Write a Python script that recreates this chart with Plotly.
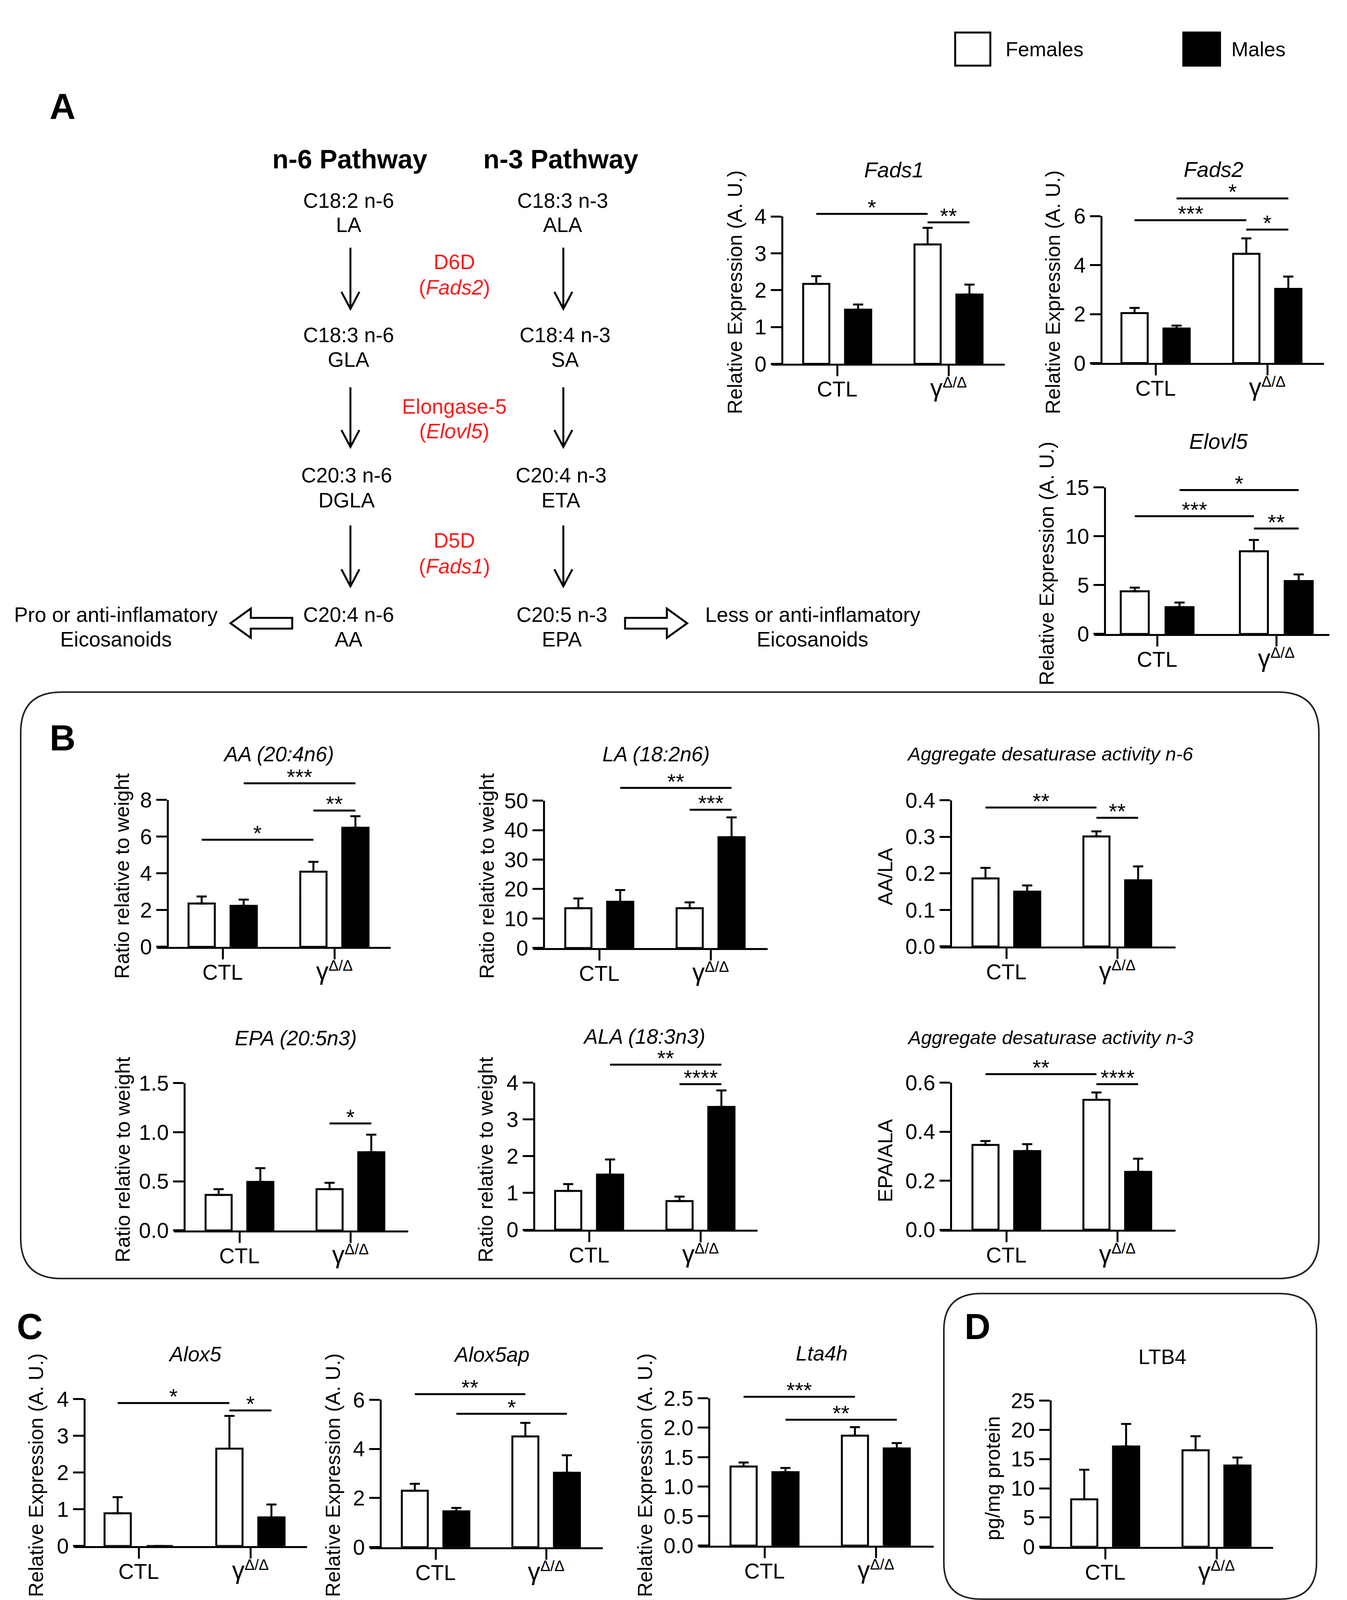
import plotly.graph_objects as go

W, H = 3448, 4175
FONT = "Liberation Sans, Arial, Helvetica, sans-serif"

# ---------------- data ----------------
groups = ["CTL", "<span style=\"font-size:64px\">γ</span><sup>Δ/Δ</sup>"]
legend_labels = ["Females", "Males"]

fads1_female = [2.17, 3.24]
fads1_female_sem = [0.21, 0.45]
fads1_male = [1.47, 1.88]
fads1_male_sem = [0.14, 0.27]
fads1_sig = [(0, 2, 4.07, "*"), (2, 3, 3.84, "**")]

fads2_female = [2.04, 4.46]
fads2_female_sem = [0.21, 0.63]
fads2_male = [1.41, 3.03]
fads2_male_sem = [0.12, 0.50]
fads2_sig = [(0, 2, 5.83, "***"), (2, 3, 5.45, "*"), (1, 3, 6.72, "*")]

elovl5_female = [4.37, 8.46]
elovl5_female_sem = [0.38, 1.16]
elovl5_male = [2.75, 5.42]
elovl5_male_sem = [0.47, 0.67]
elovl5_sig = [(0, 2, 12.05, "***"), (2, 3, 10.79, "**"), (1, 3, 14.73, "*")]

aa_female = [2.36, 4.09]
aa_female_sem = [0.38, 0.54]
aa_male = [2.23, 6.48]
aa_male_sem = [0.34, 0.63]
aa_sig = [(0, 2, 5.83, "*"), (2, 3, 7.42, "**"), (1, 3, 8.90, "***")]

la_female = [13.5, 13.5]
la_female_sem = [3.3, 2.0]
la_male = [15.7, 37.6]
la_male_sem = [3.95, 6.7]
la_sig = [(1, 3, 54.3, "**"), (2, 3, 46.9, "***")]

n6_female = [0.186, 0.301]
n6_female_sem = [0.029, 0.014]
n6_male = [0.150, 0.181]
n6_male_sem = [0.017, 0.038]
n6_sig = [(0, 2, 0.380, "**"), (2, 3, 0.352, "**")]

epa_female = [0.362, 0.42]
epa_female_sem = [0.058, 0.065]
epa_male = [0.494, 0.796]
epa_male_sem = [0.14, 0.179]
epa_sig = [(2, 3, 1.089, "*")]

ala_female = [1.054, 0.78]
ala_female_sem = [0.186, 0.12]
ala_male = [1.50, 3.34]
ala_male_sem = [0.41, 0.45]
ala_sig = [(1, 3, 4.49, "**"), (2, 3, 3.96, "****")]

n3_female = [0.346, 0.530]
n3_female_sem = [0.016, 0.030]
n3_male = [0.321, 0.236]
n3_male_sem = [0.028, 0.054]
n3_sig = [(0, 2, 0.635, "**"), (2, 3, 0.594, "****")]

alox5_female = [0.89, 2.65]
alox5_female_sem = [0.44, 0.89]
alox5_male = [0.0, 0.78]
alox5_male_sem = [0.0, 0.35]
alox5_sig = [(0, 2, 3.89, "*"), (2, 3, 3.69, "*")]

alox5ap_female = [2.30, 4.51]
alox5ap_female_sem = [0.28, 0.55]
alox5ap_male = [1.46, 3.03]
alox5ap_male_sem = [0.14, 0.71]
alox5ap_sig = [(0, 2, 6.23, "**"), (1, 3, 5.43, "*")]

lta4h_female = [1.343, 1.866]
lta4h_female_sem = [0.067, 0.144]
lta4h_male = [1.246, 1.648]
lta4h_male_sem = [0.072, 0.092]
lta4h_sig = [(0, 2, 2.525, "***"), (1, 3, 2.135, "**")]

ltb4_female = [8.12, 16.5]
ltb4_female_sem = [5.05, 2.4]
ltb4_male = [17.14, 13.9]
ltb4_male_sem = [3.86, 1.36]
ltb4_sig = []

# ---------------- panel layout (pixel geometry) ----------------
REL = "Relative Expression (A. U.)"
RAT = "Ratio relative to weight"
panels = [
    dict(title="<i>Fads1</i>", f=fads1_female, fe=fads1_female_sem, m=fads1_male, me=fads1_male_sem, sig=fads1_sig,
         ymax=4, dtick=1, fmt="d", ylab=REL, ax=2002, xr=2572, ctl=2143, gam=2428, y0=914, ytop=531,
         tx=2288, ty=410, lx=1881, ly=728, tfs=55),
    dict(title="<i>Fads2</i>", f=fads2_female, fe=fads2_female_sem, m=fads2_male, me=fads2_male_sem, sig=fads2_sig,
         ymax=6, dtick=2, fmt="d", ylab=REL, ax=2819, xr=3389, ctl=2958, gam=3244, y0=912, ytop=530,
         tx=3106, ty=409, lx=2695, ly=728, tfs=55),
    dict(title="<i>Elovl5</i>", f=elovl5_female, fe=elovl5_female_sem, m=elovl5_male, me=elovl5_male_sem, sig=elovl5_sig,
         ymax=15, dtick=5, fmt="d", ylab=REL, ax=2828, xr=3403, ctl=2962, gam=3267, y0=1616, ytop=1235,
         tx=3119, ty=1116, lx=2679, ly=1433, tfs=55),
    dict(title="<i>AA (20:4n6)</i>", f=aa_female, fe=aa_female_sem, m=aa_male, me=aa_male_sem, sig=aa_sig,
         ymax=8, dtick=2, fmt="d", ylab=RAT, ax=429, xr=1000, ctl=570, gam=856, y0=2429, ytop=2047,
         tx=713, ty=1928, lx=312, ly=2245, tfs=53),
    dict(title="<i>LA (18:2n6)</i>", f=la_female, fe=la_female_sem, m=la_male, me=la_male_sem, sig=la_sig,
         ymax=50, dtick=10, fmt="d", ylab=RAT, ax=1392, xr=1965, ctl=1534, gam=1819, y0=2432, ytop=2049,
         tx=1679, ty=1928, lx=1246, ly=2245, tfs=53),
    dict(title="<i>Aggregate desaturase activity n-6</i>", f=n6_female, fe=n6_female_sem, m=n6_male, me=n6_male_sem, sig=n6_sig,
         ymax=0.4, dtick=0.1, fmt=".1f", ylab="AA/LA", ax=2434, xr=3009, ctl=2576, gam=2860, y0=2428, ytop=2048,
         tx=2688, ty=1928, lx=2266, ly=2246, tfs=49),
    dict(title="<i>EPA (20:5n3)</i>", f=epa_female, fe=epa_female_sem, m=epa_male, me=epa_male_sem, sig=epa_sig,
         ymax=1.5, dtick=0.5, fmt=".1f", ylab=RAT, ax=472, xr=1045, ctl=613, gam=897, y0=3166, ytop=2783,
         tx=757, ty=2666, lx=314, ly=2982, tfs=53),
    dict(title="<i>ALA (18:3n3)</i>", f=ala_female, fe=ala_female_sem, m=ala_male, me=ala_male_sem, sig=ala_sig,
         ymax=4, dtick=1, fmt="d", ylab=RAT, ax=1367, xr=1939, ctl=1508, gam=1793, y0=3164, ytop=2782,
         tx=1648, ty=2662, lx=1243, ly=2982, tfs=53),
    dict(title="<i>Aggregate desaturase activity n-3</i>", f=n3_female, fe=n3_female_sem, m=n3_male, me=n3_male_sem, sig=n3_sig,
         ymax=0.6, dtick=0.2, fmt=".1f", ylab="EPA/ALA", ax=2434, xr=3009, ctl=2576, gam=2860, y0=3164, ytop=2782,
         tx=2688, ty=2665, lx=2266, ly=2985, tfs=49),
    dict(title="<i>Alox5</i>", f=alox5_female, fe=alox5_female_sem, m=alox5_male, me=alox5_male_sem, sig=alox5_sig,
         ymax=4, dtick=1, fmt="d", ylab=REL, ax=216, xr=786, ctl=355, gam=641, y0=3986, ytop=3604,
         tx=499, ty=3487, lx=92, ly=3802, tfs=53),
    dict(title="<i>Alox5ap</i>", f=alox5ap_female, fe=alox5ap_female_sem, m=alox5ap_male, me=alox5ap_male_sem, sig=alox5ap_sig,
         ymax=6, dtick=2, fmt="d", ylab=REL, ax=974, xr=1543, ctl=1115, gam=1398, y0=3989, ytop=3606,
         tx=1258, ty=3488, lx=852, ly=3802, tfs=53),
    dict(title="<i>Lta4h</i>", f=lta4h_female, fe=lta4h_female_sem, m=lta4h_male, me=lta4h_male_sem, sig=lta4h_sig,
         ymax=2.5, dtick=0.5, fmt=".1f", ylab=REL, ax=1815, xr=2390, ctl=1957, gam=2242, y0=3985, ytop=3602,
         tx=2103, ty=3485, lx=1651, ly=3802, tfs=53),
    dict(title="LTB4", f=ltb4_female, fe=ltb4_female_sem, m=ltb4_male, me=ltb4_male_sem, sig=ltb4_sig,
         ymax=25, dtick=5, fmt="d", ylab="pg/mg protein", ax=2689, xr=3259, ctl=2829, gam=3114, y0=3988, ytop=3608,
         tx=2975, ty=3494, lx=2541, ly=3810, tfs=53),
]

TICKLEN = 27
LW = 5
BAR_OFF = 0.188
BAR_W = 0.235
TICK_FS = 55
CAT_FS = 55
LAB_FS = 52
STAR_FS = 56


def px(x):
    return x / W


def py(y):
    return 1 - y / H


def ref(k, letter):
    return letter if k == 1 else f"{letter}{k}"


def key(k, letter):
    return f"{letter}axis" if k == 1 else f"{letter}axis{k}"


fig = go.Figure()
layout_axes = {}
annotations = []
shapes = []


def text(xp, yp, t, size=52, color="black", angle=0, xanchor="center", yanchor="middle"):
    annotations.append(dict(x=px(xp), y=py(yp), xref="paper", yref="paper", text=t, showarrow=False,
                            textangle=angle, xanchor=xanchor, yanchor=yanchor,
                            font=dict(family=FONT, size=size, color=color)))


for i, p in enumerate(panels):
    kv = 2 * i + 1
    ko = 2 * i + 2
    sp = p["gam"] - p["ctl"]
    xl = p["ax"] - TICKLEN
    xrange_ = [(xl - p["ctl"]) / sp, (p["xr"] - p["ctl"]) / sp]
    xdom = [px(xl), px(p["xr"])]
    ydom = [py(p["y0"]), py(p["ytop"])]
    ppu = (p["y0"] - p["ytop"]) / p["ymax"]
    ext = p["ytop"] - 260
    ydom_o = [py(p["y0"]), py(ext)]
    yrange_o = [0, (p["y0"] - ext) / ppu]

    layout_axes[key(kv, "x")] = dict(domain=xdom, range=xrange_, anchor=ref(kv, "y"), showline=True,
                                     linecolor="black", linewidth=LW, ticks="outside", ticklen=TICKLEN,
                                     tickwidth=LW, tickcolor="black", tickmode="array", tickvals=[0, 1],
                                     ticktext=groups, showgrid=False, zeroline=False, fixedrange=True,
                                     ticklabelstandoff=-14,
                                     tickfont=dict(family=FONT, size=CAT_FS, color="black"))
    layout_axes[key(kv, "y")] = dict(domain=ydom, range=[0, p["ymax"]], anchor="free", position=px(p["ax"]),
                                     side="left", showline=True, linecolor="black", linewidth=LW,
                                     ticks="outside", ticklen=TICKLEN, tickwidth=LW, tickcolor="black",
                                     tickmode="linear", tick0=0, dtick=p["dtick"], tickformat=p["fmt"],
                                     showgrid=False, zeroline=False, fixedrange=True,
                                     tickfont=dict(family=FONT, size=TICK_FS, color="black"))
    layout_axes[key(ko, "x")] = dict(domain=xdom, range=xrange_, anchor=ref(ko, "y"), visible=False,
                                     fixedrange=True)
    layout_axes[key(ko, "y")] = dict(domain=ydom_o, range=yrange_o, anchor=ref(ko, "x"), visible=False,
                                     fixedrange=True)

    centers = [0 - BAR_OFF, 0 + BAR_OFF, 1 - BAR_OFF, 1 + BAR_OFF]
    fig.add_trace(go.Bar(x=[centers[0], centers[2]], y=p["f"], width=BAR_W, name=legend_labels[0],
                         marker=dict(color="white", line=dict(color="black", width=LW)),
                         error_y=dict(type="data", symmetric=False, array=p["fe"], arrayminus=[0, 0],
                                      color="black", thickness=LW, width=13),
                         xaxis=ref(kv, "x"), yaxis=ref(kv, "y"), showlegend=False))
    fig.add_trace(go.Bar(x=[centers[1], centers[3]], y=p["m"], width=BAR_W, name=legend_labels[1],
                         marker=dict(color="black", line=dict(color="black", width=LW)),
                         error_y=dict(type="data", symmetric=False, array=p["me"], arrayminus=[0, 0],
                                      color="black", thickness=LW, width=13),
                         xaxis=ref(kv, "x"), yaxis=ref(kv, "y"), showlegend=False))

    xs, ys = [], []
    for (a, b, v, lab) in p["sig"]:
        xs += [centers[a], centers[b], None]
        ys += [v, v, None]
        annotations.append(dict(x=(centers[a] + centers[b]) / 2, y=v, xref=ref(ko, "x"), yref=ref(ko, "y"),
                                text=lab, showarrow=False, yanchor="middle", xanchor="center", yshift=17,
                                font=dict(family=FONT, size=STAR_FS, color="black")))
    if xs:
        fig.add_trace(go.Scatter(x=xs, y=ys, mode="lines", line=dict(color="black", width=LW),
                                 xaxis=ref(ko, "x"), yaxis=ref(ko, "y"), showlegend=False, hoverinfo="skip"))

    text(p["tx"], p["ty"], p["title"], size=p["tfs"])
    text(p["lx"], p["ly"], p["ylab"], size=LAB_FS, angle=-90)

# ---------------- legend ----------------
shapes.append(dict(type="rect", xref="paper", yref="paper", x0=px(2445), x1=px(2535), y0=py(139), y1=py(53),
                   line=dict(color="black", width=LW), fillcolor="white"))
shapes.append(dict(type="rect", xref="paper", yref="paper", x0=px(3029), x1=px(3123), y0=py(139), y1=py(53),
                   line=dict(color="black", width=LW), fillcolor="black"))
text(2572, 96, legend_labels[0], size=52, xanchor="left")
text(3150, 96, legend_labels[1], size=52, xanchor="left")

# ---------------- panel letters ----------------
for (lx, ly, lt) in [(160, 245, "A"), (160, 1886, "B"), (76, 3416, "C"), (2502, 3416, "D")]:
    text(lx, ly, f"<b>{lt}</b>", size=92)

# ---------------- panel boxes ----------------
def rrect(x0, y0, x1, y1, r):
    def P(x, y):
        return f"{px(x):.5f},{py(y):.5f}"
    return (f"M {P(x0 + r, y0)} L {P(x1 - r, y0)} Q {P(x1, y0)} {P(x1, y0 + r)} "
            f"L {P(x1, y1 - r)} Q {P(x1, y1)} {P(x1 - r, y1)} L {P(x0 + r, y1)} "
            f"Q {P(x0, y1)} {P(x0, y1 - r)} L {P(x0, y0 + r)} Q {P(x0, y0)} {P(x0 + r, y0)} Z")


shapes.append(dict(type="path", xref="paper", yref="paper", path=rrect(53, 1767, 3376, 3291, 105),
                   line=dict(color="#222222", width=4), layer="below"))
shapes.append(dict(type="path", xref="paper", yref="paper", path=rrect(2416, 3330, 3370, 4124, 95),
                   line=dict(color="#222222", width=4), layer="below"))

# ---------------- pathway diagram ----------------
text(895, 382, "<b>n-6 Pathway</b>", size=68)
text(1435, 382, "<b>n-3 Pathway</b>", size=68)

PFS = 53
rows = [
    (490, 553, ("C18:2 n-6", "LA", 893), ("C18:3 n-3", "ALA", 1440)),
    (839, 903, ("C18:3 n-6", "GLA", 893), ("C18:4 n-3", "SA", 1446)),
    (1203, 1268, ("C20:3 n-6", "DGLA", 888), ("C20:4 n-3", "ETA", 1436)),
    (1566, 1630, ("C20:4 n-6", "AA", 893), ("C20:5 n-3", "EPA", 1438)),
]
for (y1, y2, left, right) in rows:
    for (a, b, xc) in (left, right):
        text(xc, y1, a, size=PFS)
        text(xc, y2, b, size=PFS)

enzymes = [(649, 715, "D6D", "(<i>Fads2</i>)"),
           (1025, 1089, "Elongase-5", "(<i>Elovl5</i>)"),
           (1373, 1440, "D5D", "(<i>Fads1</i>)")]
for (y1, y2, a, b) in enzymes:
    text(1163, y1, a, size=PFS, color="#ff1a1a")
    text(1163, y2, b, size=PFS, color="#ff1a1a")

arrow_spans = [(612, 771), (975, 1130), (1334, 1492)]
for xc in (897, 1442):
    for (ya, yb) in arrow_spans:
        shapes.append(dict(type="line", xref="paper", yref="paper", x0=px(xc), x1=px(xc), y0=py(ya), y1=py(yb - 2),
                           line=dict(color="black", width=LW)))
        shapes.append(dict(type="path", xref="paper", yref="paper",
                           path=f"M {px(xc - 23):.5f},{py(yb - 44):.5f} L {px(xc):.5f},{py(yb):.5f} L {px(xc + 23):.5f},{py(yb - 44):.5f}",
                           line=dict(color="black", width=LW)))

text(297, 1566, "Pro or anti-inflamatory", size=PFS)
text(297, 1630, "Eicosanoids", size=PFS)
text(2080, 1566, "Less or anti-inflamatory", size=PFS)
text(2080, 1630, "Eicosanoids", size=PFS)


def block_arrow(tail, tip, yc, head=52, hh=38, sh=14):
    d = 1 if tip > tail else -1
    base = tip - d * head
    pts = [(tip, yc), (base, yc - hh), (base, yc - sh), (tail, yc - sh), (tail, yc + sh), (base, yc + sh), (base, yc + hh)]
    path = "M " + " L ".join(f"{px(x):.5f},{py(y):.5f}" for x, y in pts) + " Z"
    return dict(type="path", xref="paper", yref="paper", path=path, fillcolor="white",
                line=dict(color="black", width=LW))


shapes.append(block_arrow(748, 590, 1588))
shapes.append(block_arrow(1600, 1759, 1588))

fig.update_layout(
    width=W, height=H, margin=dict(l=0, r=0, t=0, b=0),
    paper_bgcolor="white", plot_bgcolor="rgba(0,0,0,0)",
    barmode="overlay", showlegend=False,
    font=dict(family=FONT, color="black"),
    annotations=annotations, shapes=shapes,
    **layout_axes,
)

fig.write_html("out.html", config={"displayModeBar": False},
               post_script="document.body.style.margin='0';document.body.style.overflow='hidden';")
